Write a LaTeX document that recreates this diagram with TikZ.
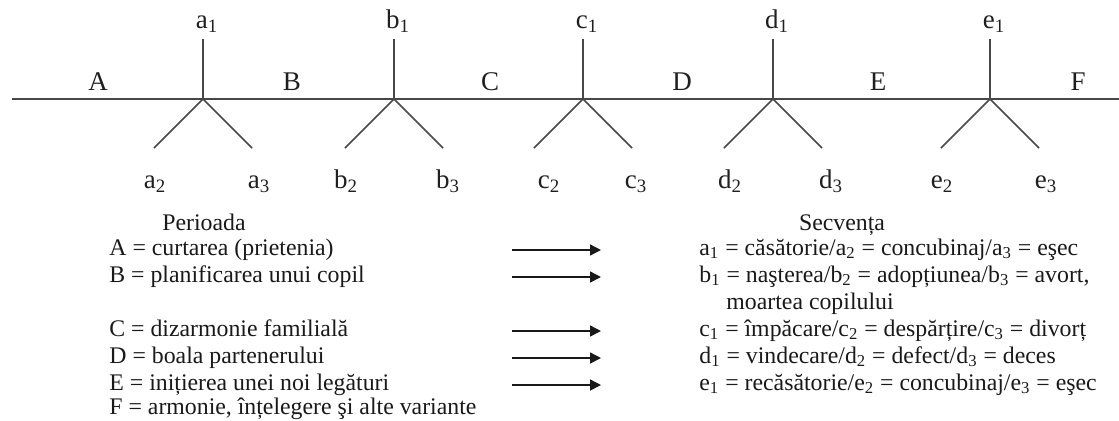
\documentclass[tikz,border=0pt]{standalone}
\usepackage{fontspec}
\setmainfont{Liberation Serif}
\usetikzlibrary{arrows.meta}
\begin{document}
\begin{tikzpicture}[x=0.5pt,y=-0.5pt,
  tree/.style={draw=black!72, line width=0.75pt},
  lbl/.style={font=\fontsize{13.5}{16}\selectfont, inner sep=0pt, anchor=base, text=black!88},
  leg/.style={font=\fontsize{11.9}{14}\selectfont, inner sep=0pt, anchor=base west, text=black!90},
  legc/.style={font=\fontsize{11.9}{14}\selectfont, inner sep=0pt, anchor=base, text=black!90},
  arr/.style={draw=black!90, line width=0.75pt, -{Triangle[length=5.5pt,width=5.5pt]}}]
\useasboundingbox (0,0) rectangle (1119,420);
% main line
\coordinate (S) at (12,99);
\coordinate (Z) at (1119,99);
\draw[tree] (S) -- (Z);
% junctions
\foreach \n/\x in {a/203,b/394,c/583,d/773,e/990}{
  \coordinate (J\n) at (\x,99);
  \coordinate (T\n) at (\x,39);
  \coordinate (L\n) at (\x-49,148);
  \coordinate (R\n) at (\x+49,148);
  \draw[tree] (J\n) -- (T\n);
  \draw[tree] (J\n) -- (L\n);
  \draw[tree] (J\n) -- (R\n);
}
% top labels
\foreach \n/\x in {a/203,b/394,c/583,d/773,e/990}{
  \node[lbl] (top\n) at (\x+4,28) {\n\textsubscript{1}};
}
% period letters
\foreach \t/\x in {A/98,B/292,C/490,D/682,E/878,F/1078}{
  \node[lbl] (per\t) at (\x,90) {\t};
}
% bottom labels
\foreach \n/\k/\x in {a/2/155,a/3/259,b/2/346,b/3/448,c/2/549,c/3/636,d/2/730,d/3/831,e/2/942,e/3/1046}{
  \node[lbl] (bot\n\k) at (\x,188) {\n\textsubscript{\k}};
}
% legend headers
\node[legc] (hper) at (204,230) {Perioada};
\node[legc] (hsec) at (842,230) {Secvența};
% left legend
\node[leg] (lA) at (109,255) {A = curtarea (prietenia)};
\node[leg] (lB) at (109,282) {B = planificarea unui copil};
\node[leg] (lC) at (109,336) {C = dizarmonie familială};
\node[leg] (lD) at (109,363) {D = boala partenerului};
\node[leg] (lE) at (109,390) {E = inițierea unei noi legături};
\node[leg] (lF) at (109,414) {F = armonie, înțelegere şi alte variante};
% right legend
\node[leg] (ra) at (699,255) {a\textsubscript{1} = căsătorie/a\textsubscript{2} = concubinaj/a\textsubscript{3} = eşec};
\node[leg] (rb) at (699,282) {b\textsubscript{1} = naşterea/b\textsubscript{2} = adopțiunea/b\textsubscript{3} = avort,};
\node[leg] (rb2) at (726,309) {moartea copilului};
\node[leg] (rc) at (699,336) {c\textsubscript{1} = împăcare/c\textsubscript{2} = despărțire/c\textsubscript{3} = divorț};
\node[leg] (rd) at (699,363) {d\textsubscript{1} = vindecare/d\textsubscript{2} = defect/d\textsubscript{3} = deces};
\node[leg] (re) at (699,390) {e\textsubscript{1} = recăsătorie/e\textsubscript{2} = concubinaj/e\textsubscript{3} = eşec};
% arrows
\foreach \r/\y in {a/250,b/277,c/331,d/358,e/385}{
  \coordinate (as\r) at (512,\y);
  \coordinate (ae\r) at (601,\y);
  \draw[arr] (as\r) -- (ae\r);
}
\end{tikzpicture}
\end{document}
